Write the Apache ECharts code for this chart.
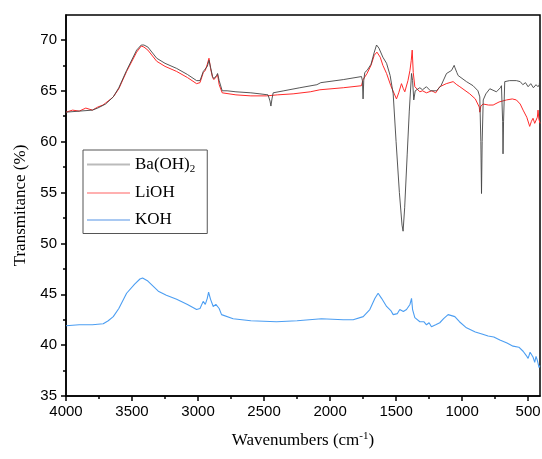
<!DOCTYPE html>
<html>
<head>
<meta charset="utf-8">
<script src="https://cdn.jsdelivr.net/npm/echarts@6/dist/echarts.min.js"></script>
<style>
  html, body { margin: 0; padding: 0; background: #fff; }
  #main { width: 542px; height: 459px; }
</style>
</head>
<body>
<div id="main"></div>
<script>
// wavenumber (cm-1) / transmittance (%)
var baWn = [4000,3900,3800,3760,3700,3642,3600,3541,3465,3430,3410,3380,3313,3250,3162,3080,3011,2985,2960,2945,2930,2917,2905,2890,2880,2860,2852,2840,2817,2780,2713,2600,2531,2470,2455,2448,2440,2431,2350,2229,2100,2070,2065,1900,1762,1755,1750,1745,1737,1720,1690,1665,1648,1630,1600,1572,1545,1522,1500,1475,1455,1447,1435,1416,1400,1383,1375,1366,1355,1345,1320,1300,1270,1240,1194,1160,1118,1080,1060,1055,1040,1030,967,917,880,866,858,853,848,840,820,790,740,710,702,693,690,686,677,640,589,560,540,520,500,480,460,440,425,415,407];
var baT  = [62.9,63.0,63.1,63.3,63.7,64.4,65.3,67.0,69.0,69.5,69.5,69.3,68.2,67.7,67.2,66.6,66.0,66.0,66.9,67.0,67.4,68.0,67.3,66.4,66.2,66.5,66.7,66.0,65.0,65.0,64.9,64.8,64.7,64.6,64.0,63.5,64.2,64.8,65.0,65.3,65.6,65.8,65.9,66.1,66.4,66.0,64.2,66.0,66.8,67.0,67.6,68.8,69.5,69.2,68.3,67.7,66.5,64.7,60.0,55.0,51.8,51.2,53.5,58.7,63.0,66.7,66.0,64.1,65.0,65.0,65.3,65.1,65.4,65.0,65.0,65.5,66.7,67.0,67.5,67.3,66.8,66.5,65.9,65.5,65.0,64.4,60.0,54.9,60.0,64.1,64.7,65.2,64.9,65.3,65.5,62.0,58.8,62.0,65.9,66.0,66.0,65.9,65.6,65.8,65.4,65.7,65.3,65.6,65.4,65.6,67.0];

var liWn = [4000,3950,3900,3850,3800,3760,3720,3700,3660,3642,3600,3541,3465,3430,3410,3380,3313,3250,3162,3080,3011,2985,2960,2945,2930,2917,2905,2890,2880,2860,2852,2840,2817,2713,2600,2481,2400,2280,2150,2077,1900,1762,1750,1720,1690,1665,1645,1620,1600,1572,1540,1497,1480,1459,1445,1434,1410,1395,1385,1378,1370,1358,1320,1300,1270,1230,1200,1169,1120,1068,1040,1017,942,900,870,866,858,841,800,765,720,664,620,589,560,538,510,488,475,463,450,440,430,425,418,410];
var liT  = [62.9,63.1,63.0,63.3,63.1,63.4,63.6,63.8,64.2,64.4,65.2,66.9,68.8,69.4,69.3,69.0,67.9,67.4,66.9,66.3,65.7,65.8,66.8,67.0,67.6,68.2,67.2,66.3,66.1,66.4,66.6,65.6,64.8,64.6,64.5,64.5,64.6,64.7,64.9,65.1,65.3,65.5,66.1,66.7,67.5,68.5,68.8,68.3,67.5,66.7,65.5,64.2,64.8,65.7,65.2,64.9,66.0,67.0,68.0,69.0,66.8,65.4,64.9,65.0,64.8,65.0,64.8,65.4,65.7,65.9,65.6,65.4,64.7,64.2,63.4,62.9,63.5,63.7,63.6,63.6,63.9,64.1,64.2,64.1,63.7,63.1,62.4,61.5,62.0,62.3,61.8,61.7,62.4,63.1,62.2,61.8];

var kWn = [4000,3900,3800,3718,3680,3642,3600,3541,3480,3440,3420,3380,3301,3240,3162,3080,3011,2985,2961,2945,2930,2920,2905,2885,2865,2852,2840,2822,2734,2600,2405,2250,2065,1900,1825,1749,1699,1660,1636,1610,1572,1540,1522,1490,1472,1445,1421,1395,1383,1375,1358,1320,1290,1270,1250,1232,1200,1169,1140,1106,1080,1055,1020,967,900,850,803,760,714,660,614,570,538,515,500,485,475,462,450,440,430,417,410];
var kT  = [41.9,42.0,42.0,42.1,42.4,42.8,43.6,45.1,46.0,46.5,46.6,46.3,45.3,44.9,44.5,44.0,43.5,43.6,44.3,44.0,44.6,45.2,44.5,43.8,44.0,44.1,43.6,43.0,42.6,42.4,42.3,42.4,42.6,42.5,42.5,42.8,43.5,44.6,45.1,44.6,43.8,43.4,43.0,43.1,43.5,43.3,43.5,44.0,44.6,43.5,42.7,42.3,42.3,42.0,42.2,41.8,42.0,42.2,42.6,43.0,42.9,42.8,42.3,41.7,41.3,41.1,40.9,40.8,40.5,40.2,39.9,39.8,39.4,39.0,38.7,39.3,39.4,38.8,38.3,38.9,38.5,37.8,38.0];

var xTicks = [4000,3500,3000,2500,2000,1500,1000,500];
var xMinor = [3750,3250,2750,2250,1750,1250,750];
var yTicks = [35,40,45,50,55,60,65,70];
var yMinor = [37.5,42.5,47.5,52.5,57.5,62.5,67.5];

function pairs(wn, t) {
  var out = [];
  for (var i = 0; i < wn.length; i++) out.push([wn[i], t[i]]);
  return out;
}

var chart = echarts.init(document.getElementById('main'), null, { renderer: 'canvas' });

var xBase = {
  type: 'value', inverse: true, min: 410, max: 4000,
  gridIndex: 0, splitLine: { show: false }
};
var yBase = {
  type: 'value', min: 35, max: 72.45,
  gridIndex: 0, splitLine: { show: false }
};

var option = {
  animation: false,
  backgroundColor: '#fff',
  grid: {
    left: 66, right: 2, top: 15, bottom: 63,
    outerBoundsMode: 'none', containLabel: false,
    show: true, borderColor: '#000', borderWidth: 1.5, backgroundColor: 'transparent'
  },
  legend: {
    orient: 'vertical',
    left: 83, top: 150,
    padding: [6, 12, 5, 4],
    borderColor: '#555', borderWidth: 1,
    itemWidth: 43, itemHeight: 2, itemGap: 10,
    icon: 'rect',
    textStyle: {
      fontFamily: 'Liberation Serif', fontSize: 17, color: '#000',
      rich: { sub: { fontFamily: 'Liberation Serif', fontSize: 11, color: '#000', verticalAlign: 'bottom', padding: [9, 0, 0, 0] } }
    },
    formatter: function (name) {
      return name === 'Ba(OH)2' ? 'Ba(OH){sub|2}' : name;
    },
    data: [
      { name: 'Ba(OH)2', itemStyle: { color: '#bbbbbb' } },
      { name: 'LiOH', itemStyle: { color: '#ffb0b0' } },
      { name: 'KOH', itemStyle: { color: '#a9c9f2' } }
    ]
  },
  xAxis: [
    Object.assign({}, xBase, {
      name: 'Wavenumbers (cm{sup|-1})',
      nameLocation: 'middle', nameGap: 35,
      nameTextStyle: {
        fontFamily: 'Liberation Serif', fontSize: 17, color: '#000',
        rich: { sup: { fontFamily: 'Liberation Serif', fontSize: 11, color: '#000', verticalAlign: 'top', padding: [0, 0, 8, 0] } }
      },
      axisLine: { show: true, lineStyle: { color: '#000', width: 1.5 } },
      axisTick: { show: true, length: 5, customValues: xTicks, lineStyle: { color: '#000', width: 1.5 } },
      axisLabel: {
        customValues: xTicks, margin: 8, fontFamily: 'Liberation Sans', fontSize: 15, color: '#000',
        formatter: function (v) { return String(v); }
      }
    }),
    Object.assign({}, xBase, {
      position: 'bottom',
      axisLine: { show: false },
      axisTick: { show: true, length: 3, customValues: xMinor, lineStyle: { color: '#000', width: 1.5 } },
      axisLabel: { show: false }
    })
  ],
  yAxis: [
    Object.assign({}, yBase, {
      name: 'Transmitance (%)',
      nameLocation: 'middle', nameGap: 36,
      nameTextStyle: { fontFamily: 'Liberation Serif', fontSize: 17, color: '#000' },
      axisLine: { show: true, lineStyle: { color: '#000', width: 1.5 } },
      axisTick: { show: true, length: 5, customValues: yTicks, lineStyle: { color: '#000', width: 1.5 } },
      axisLabel: { customValues: yTicks, margin: 9, fontFamily: 'Liberation Sans', fontSize: 15, color: '#000' }
    }),
    Object.assign({}, yBase, {
      position: 'left',
      axisLine: { show: false },
      axisTick: { show: true, length: 3, customValues: yMinor, lineStyle: { color: '#000', width: 1.5 } },
      axisLabel: { show: false }
    })
  ],
  series: [
    {
      name: 'KOH', type: 'line', showSymbol: false, z: 2,
      data: pairs(kWn, kT),
      itemStyle: { color: '#4c9ef2' },
      lineStyle: { color: '#4c9ef2', width: 1.1 }
    },
    {
      name: 'LiOH', type: 'line', showSymbol: false, z: 3,
      data: pairs(liWn, liT),
      itemStyle: { color: '#ff2a2a' },
      lineStyle: { color: '#ff2a2a', width: 1 }
    },
    {
      name: 'Ba(OH)2', type: 'line', showSymbol: false, z: 4,
      data: pairs(baWn, baT),
      itemStyle: { color: '#444444' },
      lineStyle: { color: '#444444', width: 0.9 }
    }
  ]
};

chart.setOption(option);
</script>
</body>
</html>
